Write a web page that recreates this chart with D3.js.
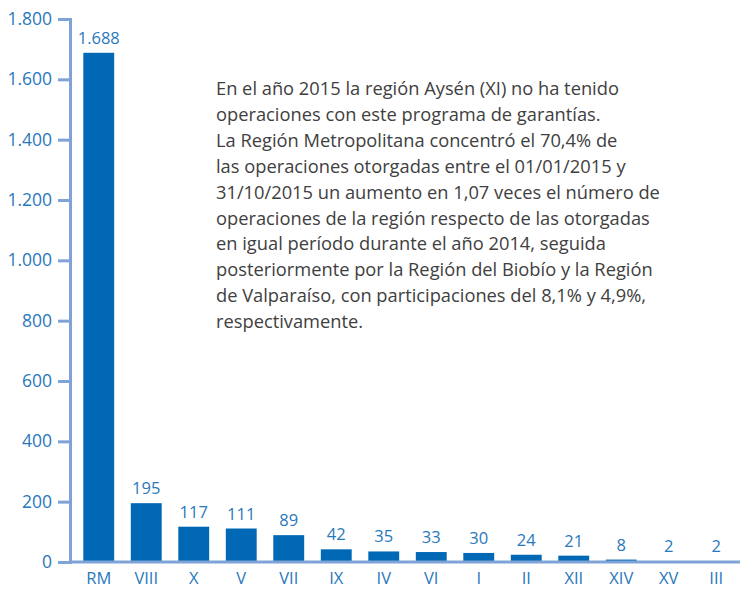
<!DOCTYPE html>
<html>
<head>
<meta charset="utf-8">
<script src="https://cdn.jsdelivr.net/npm/d3@7"></script>
<style>
html,body{margin:0;padding:0;background:#fff;}
svg{display:block;}
</style>
</head>
<body>
<svg id="chart" width="740" height="589"></svg>
<script>
const categories = ["RM","VIII","X","V","VII","IX","IV","VI","I","II","XII","XIV","XV","III"];
const values = [1688,195,117,111,89,42,35,33,30,24,21,8,2,2];
const yTicks = [0,200,400,600,800,1000,1200,1400,1600,1800];
const noteLines = [
  "En el año 2015 la región Aysén (XI) no ha tenido",
  "operaciones con este programa de garantías.",
  "La Región Metropolitana concentró el 70,4% de",
  "las operaciones otorgadas entre el 01/01/2015 y",
  "31/10/2015 un aumento en 1,07 veces el número de",
  "operaciones de la región respecto de las otorgadas",
  "en igual período durante el año 2014, seguida",
  "posteriormente por la Región del Biobío y la Región",
  "de Valparaíso, con participaciones del 8,1% y 4,9%,",
  "respectivamente."
];

const fmt = d3.formatLocale({decimal:",", thousands:".", grouping:[3], currency:["",""]}).format(",d");
const svg = d3.select("#chart");
const font = "'Open Sans', 'Noto Sans', sans-serif";
const blue = "#0068b5";
const labelBlue = "#2a78bc";
const axisBlue = "#7fa3d6";

const y = d3.scaleLinear().domain([0,1800]).range([562,19]);
const x = d3.scaleBand().domain(categories).range([75,740]).paddingInner(0.35).paddingOuter(0.175);

// bars
svg.append("g").selectAll("rect").data(values).join("rect")
  .attr("x",(d,i)=>x(categories[i]))
  .attr("y",d=>y(d))
  .attr("width",x.bandwidth())
  .attr("height",d=>y(0)-y(d))
  .attr("fill",blue);

// value labels
svg.append("g").selectAll("text").data(values).join("text")
  .attr("x",(d,i)=>x(categories[i])+x.bandwidth()/2)
  .attr("y",d=>y(d)-9)
  .attr("text-anchor","middle")
  .attr("font-family",font)
  .attr("font-size",16.5)
  .attr("fill",labelBlue)
  .text(d=>fmt(d));

// y axis
const yAxis = d3.axisLeft(y).tickValues(yTicks).tickSize(12).tickPadding(6).tickFormat(d=>fmt(d));
const gy = svg.append("g").attr("transform","translate(70,0)").call(yAxis);
gy.select(".domain").attr("stroke",axisBlue).attr("stroke-width",3);
gy.selectAll(".tick line").attr("stroke",axisBlue).attr("stroke-width",3);
gy.selectAll(".tick text").attr("font-family",font).attr("font-size",17.5).attr("fill",labelBlue);

// x axis baseline
const xAxis = d3.axisBottom(x).tickSize(0).tickPadding(10);
const gx = svg.append("g").attr("transform","translate(0,562)").call(xAxis);
gx.select(".domain").attr("stroke",axisBlue).attr("stroke-width",3).attr("d","M70,0H740");
gx.selectAll(".tick text").attr("font-family",font).attr("font-size",16.5).attr("fill",labelBlue);

// annotation
svg.append("text")
  .attr("font-family",font)
  .attr("font-size",18.3)
  .attr("fill","#404040")
  .selectAll("tspan").data(noteLines).join("tspan")
  .attr("x",216)
  .attr("y",(d,i)=>95+i*25.9)
  .text(d=>d);
</script>
</body>
</html>
